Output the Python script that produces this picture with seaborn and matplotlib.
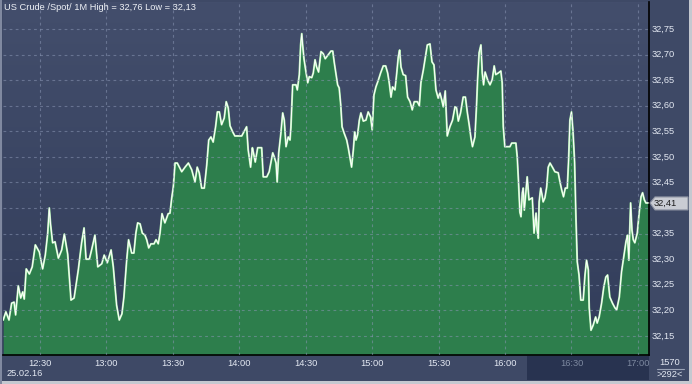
import numpy as np
import pandas as pd
import matplotlib
matplotlib.use("Agg")
import matplotlib.pyplot as plt
import seaborn as sns
from matplotlib.patches import Rectangle, Polygon
from matplotlib.lines import Line2D
from matplotlib.colors import LinearSegmentedColormap

# ---------------- data (minutes after 12:00, price) ----------------
minutes = [13.4, 14.6, 16.0, 17.2, 18.3, 19.0, 20.2, 21.3, 22.2, 22.9, 23.8, 25.2, 26.5, 27.9, 29.7,
           31.2, 32.4, 33.5, 34.2, 34.8, 35.7, 36.8, 38.3, 39.8, 41.0, 42.5, 44.0, 45.4, 47.3, 48.8,
           49.9, 50.8, 52.3, 53.3, 54.8, 56.1, 57.9, 59.0, 60.4, 62.1, 63.1, 64.6, 65.8, 67.0, 67.9,
           69.1, 70.0, 71.4, 72.4, 73.3, 74.1, 75.2, 76.2, 77.4, 78.2, 79.1, 80.1, 81.5, 82.4, 83.4,
           84.2, 85.1, 86.4, 87.9, 88.7, 89.5, 90.2, 91.0, 92.0, 94.0, 95.5, 97.0, 98.5, 100.0, 101.0,
           101.9, 103.0, 104.2, 105.3, 106.2, 107.2, 108.2, 109.3, 110.1, 111.0, 112.0, 113.2, 114.1,
           115.0, 115.8, 117.0, 118.0, 121.1, 122.1, 123.3, 124.0, 125.1, 125.9, 126.3, 127.2, 128.3,
           130.1, 130.8, 132.4, 133.5, 135.1, 135.8, 136.6, 137.1, 137.8, 138.7, 139.6, 140.3, 141.1,
           142.1, 142.9, 143.3, 144.1, 145.6, 146.2, 147.1, 147.7, 148.2, 148.6, 149.2, 150.1, 150.9,
           151.6, 152.7, 153.4, 154.2, 154.9, 155.8, 156.9, 157.9, 158.8, 160.2, 161.4, 162.2, 162.9,
           163.6, 164.4, 165.1, 165.8, 166.4, 167.3, 168.5, 169.2, 170.0, 170.7, 171.5, 172.1, 172.7,
           173.4, 174.2, 174.9, 176.0, 177.2, 178.2, 179.3, 180.0, 180.8, 181.7, 182.7, 183.8, 185.0,
           186.1, 187.0, 187.7, 188.5, 189.2, 190.3, 191.1, 191.8, 192.4, 193.0, 194.0, 195.1, 196.0,
           197.1, 198.1, 199.0, 200.4, 201.3, 202.0, 203.1, 204.0, 204.9, 206.1, 207.0, 207.9, 208.8,
           209.8, 210.6, 211.4, 212.1, 213.0, 213.9, 215.1, 216.3, 217.4, 218.1, 218.9, 219.9, 221.1,
           222.1, 223.0, 223.8, 224.6, 225.3, 226.4, 227.1, 227.6, 228.3, 229.1, 229.7, 230.3, 231.0,
           232.1, 233.2, 234.2, 235.1, 235.8, 236.9, 238.1, 238.7, 239.2, 239.9, 242.2, 243.0, 244.9,
           245.5, 246.1, 246.7, 247.2, 247.8, 248.2, 248.7, 249.3, 250.0, 250.8, 252.3, 253.1, 254.0,
           254.5, 255.0, 255.4, 256.1, 256.7, 257.2, 258.0, 258.8, 259.5, 260.3, 261.5, 262.5, 264.0,
           264.8, 265.6, 266.4, 267.2, 268.1, 268.7, 269.3, 270.0, 270.7, 271.4, 272.0, 272.6, 273.4,
           274.2, 275.3, 276.1, 276.8, 277.6, 278.0, 278.8, 279.8, 280.9, 281.6, 282.5, 283.6, 284.6,
           285.5, 286.3, 287.3, 288.5, 289.6, 290.4, 291.6, 292.6, 293.7, 294.6, 295.3, 295.9, 296.7,
           297.3, 297.9, 298.6, 299.7, 300.6, 301.4, 302.1, 302.9, 303.6, 305.0]
prices = [32.181, 32.197, 32.181, 32.214, 32.216, 32.191, 32.248, 32.224, 32.236, 32.222, 32.281, 32.271,
          32.285, 32.328, 32.314, 32.281, 32.308, 32.351, 32.400, 32.367, 32.332, 32.334, 32.302, 32.318,
          32.349, 32.310, 32.220, 32.224, 32.279, 32.332, 32.361, 32.300, 32.300, 32.318, 32.347, 32.285,
          32.291, 32.308, 32.293, 32.318, 32.285, 32.210, 32.181, 32.193, 32.226, 32.295, 32.338, 32.312,
          32.312, 32.351, 32.371, 32.369, 32.351, 32.347, 32.338, 32.322, 32.330, 32.330, 32.338, 32.330,
          32.351, 32.389, 32.371, 32.389, 32.390, 32.420, 32.441, 32.488, 32.488, 32.471, 32.480, 32.488,
          32.475, 32.451, 32.480, 32.469, 32.439, 32.439, 32.484, 32.533, 32.539, 32.529, 32.559, 32.588,
          32.588, 32.563, 32.576, 32.608, 32.596, 32.561, 32.549, 32.541, 32.541, 32.549, 32.559, 32.514,
          32.480, 32.518, 32.510, 32.490, 32.518, 32.518, 32.461, 32.461, 32.471, 32.508, 32.500, 32.488,
          32.451, 32.508, 32.543, 32.586, 32.572, 32.520, 32.539, 32.533, 32.557, 32.641, 32.641, 32.631,
          32.661, 32.719, 32.741, 32.719, 32.692, 32.666, 32.645, 32.657, 32.655, 32.664, 32.690, 32.676,
          32.666, 32.706, 32.702, 32.692, 32.700, 32.707, 32.707, 32.684, 32.664, 32.641, 32.635, 32.602,
          32.559, 32.547, 32.533, 32.518, 32.498, 32.480, 32.514, 32.549, 32.533, 32.543, 32.572, 32.586,
          32.570, 32.572, 32.588, 32.578, 32.553, 32.621, 32.637, 32.649, 32.664, 32.678, 32.678, 32.664,
          32.645, 32.617, 32.637, 32.631, 32.664, 32.696, 32.709, 32.676, 32.661, 32.659, 32.617, 32.608,
          32.592, 32.608, 32.608, 32.600, 32.645, 32.670, 32.694, 32.719, 32.721, 32.686, 32.680, 32.631,
          32.615, 32.625, 32.612, 32.598, 32.629, 32.541, 32.559, 32.572, 32.598, 32.596, 32.570, 32.586,
          32.617, 32.617, 32.586, 32.563, 32.537, 32.520, 32.539, 32.598, 32.651, 32.704, 32.719, 32.664,
          32.641, 32.666, 32.651, 32.641, 32.651, 32.678, 32.661, 32.664, 32.668, 32.645, 32.559, 32.520,
          32.520, 32.527, 32.527, 32.500, 32.449, 32.392, 32.383, 32.430, 32.439, 32.396, 32.426, 32.461,
          32.416, 32.420, 32.351, 32.390, 32.357, 32.341, 32.412, 32.439, 32.426, 32.412, 32.420, 32.441,
          32.480, 32.488, 32.479, 32.471, 32.469, 32.451, 32.435, 32.422, 32.439, 32.439, 32.494, 32.572,
          32.588, 32.549, 32.490, 32.383, 32.295, 32.269, 32.220, 32.220, 32.269, 32.298, 32.279, 32.205,
          32.161, 32.171, 32.187, 32.175, 32.187, 32.214, 32.246, 32.265, 32.269, 32.226, 32.214, 32.205,
          32.201, 32.226, 32.275, 32.308, 32.334, 32.347, 32.298, 32.410, 32.357, 32.338, 32.332, 32.351,
          32.392, 32.422, 32.430, 32.416, 32.410, 32.410]

y_ticks = [32.15, 32.20, 32.25, 32.30, 32.35, 32.40, 32.45, 32.50, 32.55, 32.60, 32.65, 32.70, 32.75]
y_labels = ["32,15", "32,20", "32,25", "32,30", "32,35", "32,40", "32,45", "32,50", "32,55", "32,60",
            "32,65", "32,70", "32,75"]
x_ticks = [30, 60, 90, 120, 150, 180, 210, 240, 270, 300]
x_labels = ["12:30", "13:00", "13:30", "14:00", "14:30", "15:00", "15:30", "16:00", "16:30", "17:00"]
title = "US Crude /Spot/ 1M High = 32,76 Low = 32,13"
last_label = "32,41"
last_price = 32.41
date_label = "25.02.16"
count_top = "1570"
count_bottom = ">292<"

df = pd.DataFrame({"minute": minutes, "price": prices})

# ---------------- figure ----------------
W, H = 692, 384
sns.set_style("dark")
plt.rcParams["font.family"] = ["Liberation Sans", "DejaVu Sans"]
FS = 6.7
TXT = "#e3e8f2"
fig = plt.figure(figsize=(W / 100, H / 100), dpi=100)
fig.patch.set_facecolor("#3e4966")

def fx(px):
    return px / W

def fy(py):
    return 1 - py / H

L, R, T, B = 3, 649, 2, 355
ax = fig.add_axes([fx(L), fy(B), fx(R - L), (B - T) / H])
XMIN, XMAX = 13.3, 305.0
YMIN, YMAX = 32.1126, 32.803
ax.set_xlim(XMIN, XMAX)
ax.set_ylim(YMIN, YMAX)

grad = np.linspace(0, 1, 256).reshape(-1, 1)
cmap = LinearSegmentedColormap.from_list("bg", ["#323d5a", "#434e6c"])
ax.imshow(grad, extent=[XMIN, XMAX, YMIN, YMAX], origin="lower", aspect="auto", cmap=cmap, zorder=0)

ax.fill_between(df["minute"], df["price"], YMIN, color="#2d7e4c", zorder=1, linewidth=0)
sns.lineplot(data=df, x="minute", y="price", ax=ax, color="#a6eaa6", linewidth=1.4, zorder=2)
sns.lineplot(data=df, x="minute", y="price", ax=ax, color="#ffffff", linewidth=0.7, zorder=3)

for xt in x_ticks:
    ax.axvline(xt, color="#8a96b4", alpha=0.55, lw=0.8, ls=(0, (2.5, 3)), zorder=4)
for yt in y_ticks:
    ax.axhline(yt, color="#8a96b4", alpha=0.55, lw=0.8, ls=(0, (2.5, 3)), zorder=4)

ax.set_xticks([])
ax.set_yticks([])
ax.set_xlabel("")
ax.set_ylabel("")
for s in ["top", "left"]:
    ax.spines[s].set_visible(False)
for s in ["right", "bottom"]:
    ax.spines[s].set_color("#000000")
    ax.spines[s].set_linewidth(1.2)

fig.text(fx(4), fy(8), title, ha="left", va="center", color="#eef1f6", fontsize=FS, zorder=6)

def py_of(v):
    return B - (v - YMIN) / (YMAX - YMIN) * (B - T)

for v, lab in zip(y_ticks, y_labels):
    if abs(v - last_price) < 0.03:
        continue
    fig.text(fx(652), fy(py_of(v)), lab, ha="left", va="center", color=TXT, fontsize=FS)

yy = py_of(last_price)
tag = Polygon([[fx(650), fy(yy)], [fx(655), fy(yy - 6)], [fx(688), fy(yy - 6)],
               [fx(688), fy(yy + 7)], [fx(655), fy(yy + 7)]], closed=True,
              transform=fig.transFigure, facecolor="#c9ccd3", edgecolor="#8d93a2", lw=0.8)
fig.patches.append(tag)
fig.text(fx(654), fy(yy + 0.5), last_label, ha="left", va="center", color="#1c1c1c", fontsize=FS)

def px_of(m):
    return L + (m - XMIN) / (XMAX - XMIN) * (R - L)

fig.patches.append(Rectangle((fx(527), fy(380)), fx(R - 527), (380 - 356) / H,
                             transform=fig.transFigure, facecolor="#283350", edgecolor="none"))
for m, lab in zip(x_ticks, x_labels):
    col = "#7c889f" if px_of(m) > 527 else TXT
    fig.text(fx(px_of(m)), fy(363.5), lab, ha="center", va="center", color=col, fontsize=FS)

fig.text(fx(7), fy(374), date_label, ha="left", va="center", color=TXT, fontsize=FS)
fig.text(fx(670), fy(362.5), count_top, ha="center", va="center", color=TXT, fontsize=FS)
fig.lines.append(Line2D([fx(657), fx(684)], [fy(369), fy(369)], transform=fig.transFigure,
                        color="#9aa3b6", lw=0.8))
fig.text(fx(670), fy(374.5), count_bottom, ha="center", va="center", color=TXT, fontsize=FS)

# outer frame strips
fig.patches.append(Rectangle((fx(689), 0), fx(3), 1, transform=fig.transFigure,
                             facecolor="#c4c8d0", edgecolor="none", zorder=10))
fig.patches.append(Rectangle((0, 0), 1, (384 - 381) / H, transform=fig.transFigure,
                             facecolor="#c4c8d0", edgecolor="none", zorder=10))
fig.patches.append(Rectangle((0, 0), fx(2), 1, transform=fig.transFigure,
                             facecolor="#8089a0", edgecolor="none", zorder=10))

fig.savefig("out.png", dpi=100, facecolor=fig.get_facecolor())
